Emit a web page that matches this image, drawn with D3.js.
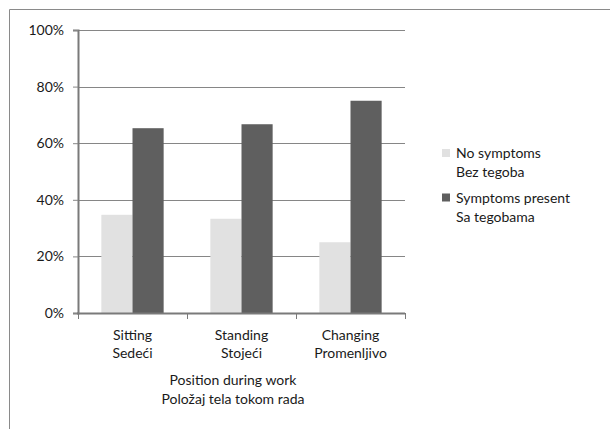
<!DOCTYPE html>
<html>
<head>
<meta charset="utf-8">
<script src="https://cdn.jsdelivr.net/npm/d3@7"></script>
<style>
  html, body { margin: 0; padding: 0; background: #fff; }
  svg { display: block; }
  text { font-family: Lato, "Open Sans", sans-serif; fill: #1a1a1a; }
</style>
</head>
<body>
<svg id="chart" width="610" height="429"></svg>
<script>
// Work position categories (English / Serbian)
const categoriesEn = ["Sitting", "Standing", "Changing"];
const categoriesSr = ["Sedeći", "Stojeći", "Promenljivo"];

// Share of workers per category, in percent
const noSymptoms = [34.7, 33.3, 25.0];
const symptomsPresent = [65.3, 66.7, 75.0];

const seriesNamesEn = ["No symptoms", "Symptoms present"];
const seriesNamesSr = ["Bez tegoba", "Sa tegobama"];
const seriesColors = ["#e1e1e1", "#5f5f5f"];

const yTicks = [0, 20, 40, 60, 80, 100];
const axisTitle = ["Position during work", "Položaj tela tokom rada"];

const svg = d3.select("#chart");

// outer frame (top and left edges)
svg.append("path")
  .attr("d", "M9.5,429 V9.5 H610")
  .attr("fill", "none")
  .attr("stroke", "#8a8a8a")
  .attr("stroke-width", 1);

const plot = { left: 78, right: 405, top: 30, bottom: 313 };

const x0 = d3.scaleBand()
  .domain(categoriesEn)
  .range([plot.left, plot.right])
  .paddingInner(0)
  .paddingOuter(0);

const x1 = d3.scaleBand()
  .domain([0, 1])
  .range([0, x0.bandwidth()])
  .paddingInner(0)
  .paddingOuter(0.75);

const y = d3.scaleLinear().domain([0, 100]).range([plot.bottom, plot.top]);

// gridlines
svg.append("g")
  .selectAll("line")
  .data(yTicks.filter(d => d > 0))
  .join("line")
  .attr("x1", plot.left)
  .attr("x2", plot.right)
  .attr("y1", d => Math.round(y(d)) + 0.5)
  .attr("y2", d => Math.round(y(d)) + 0.5)
  .attr("stroke", "#868686")
  .attr("stroke-width", 1);

// bars
const seriesValues = [noSymptoms, symptomsPresent];
const groups = svg.append("g")
  .selectAll("g")
  .data(categoriesEn)
  .join("g")
  .attr("transform", d => `translate(${x0(d)},0)`);

groups.selectAll("rect")
  .data((d, i) => seriesValues.map((vals, s) => ({ s, v: vals[i] })))
  .join("rect")
  .attr("x", d => x1(d.s))
  .attr("width", x1.bandwidth())
  .attr("y", d => y(d.v))
  .attr("height", d => y(0) - y(d.v))
  .attr("fill", d => seriesColors[d.s]);

// y axis
const yAxis = svg.append("g")
  .attr("transform", `translate(${plot.left},0)`)
  .call(d3.axisLeft(y).tickValues(yTicks).tickFormat(d => d + "%").tickSize(5).tickPadding(9));
yAxis.select(".domain").attr("stroke", "#7a7a7a").attr("stroke-width", 2);
yAxis.selectAll(".tick line").attr("stroke", "#868686");
yAxis.selectAll(".tick text")
  .attr("font-size", 14)
  .attr("font-family", "Lato, sans-serif")
  .attr("fill", "#1a1a1a");

// x axis line with boundary ticks
const xAxisG = svg.append("g");
xAxisG.append("line")
  .attr("x1", plot.left - 1)
  .attr("x2", plot.right)
  .attr("y1", plot.bottom + 0.5)
  .attr("y2", plot.bottom + 0.5)
  .attr("stroke", "#7a7a7a")
  .attr("stroke-width", 2);
const boundaries = categoriesEn.map(c => x0(c)).concat([x0(categoriesEn[categoriesEn.length - 1]) + x0.bandwidth()]);
xAxisG.selectAll("line.b")
  .data(boundaries)
  .join("line")
  .attr("class", "b")
  .attr("x1", d => Math.round(d) + 0.5)
  .attr("x2", d => Math.round(d) + 0.5)
  .attr("y1", plot.bottom)
  .attr("y2", plot.bottom + 6)
  .attr("stroke", "#7a7a7a");

// category labels (two lines)
const catLabels = svg.append("g")
  .selectAll("text")
  .data(categoriesEn)
  .join("text")
  .attr("text-anchor", "middle")
  .attr("font-size", 14)
  .attr("x", d => x0(d) + x0.bandwidth() / 2);
catLabels.append("tspan").attr("x", d => x0(d) + x0.bandwidth() / 2).attr("y", 340).text(d => d);
catLabels.append("tspan").attr("x", d => x0(d) + x0.bandwidth() / 2).attr("y", 358).text((d, i) => categoriesSr[i]);

// axis title
const title = svg.append("text")
  .attr("text-anchor", "middle")
  .attr("font-size", 14);
axisTitle.forEach((t, i) => {
  title.append("tspan").attr("x", 233).attr("y", 385 + i * 18.5).text(t);
});

// legend
const legend = svg.append("g");
seriesNamesEn.forEach((name, i) => {
  const top = 149 + i * 44.5;
  legend.append("rect")
    .attr("x", 442).attr("y", top)
    .attr("width", 8).attr("height", 8)
    .attr("fill", seriesColors[i]);
  const t = legend.append("text").attr("font-size", 14);
  t.append("tspan").attr("x", 456).attr("y", top + 9).text(name);
  t.append("tspan").attr("x", 456).attr("y", top + 28).text(seriesNamesSr[i]);
});
</script>
</body>
</html>
